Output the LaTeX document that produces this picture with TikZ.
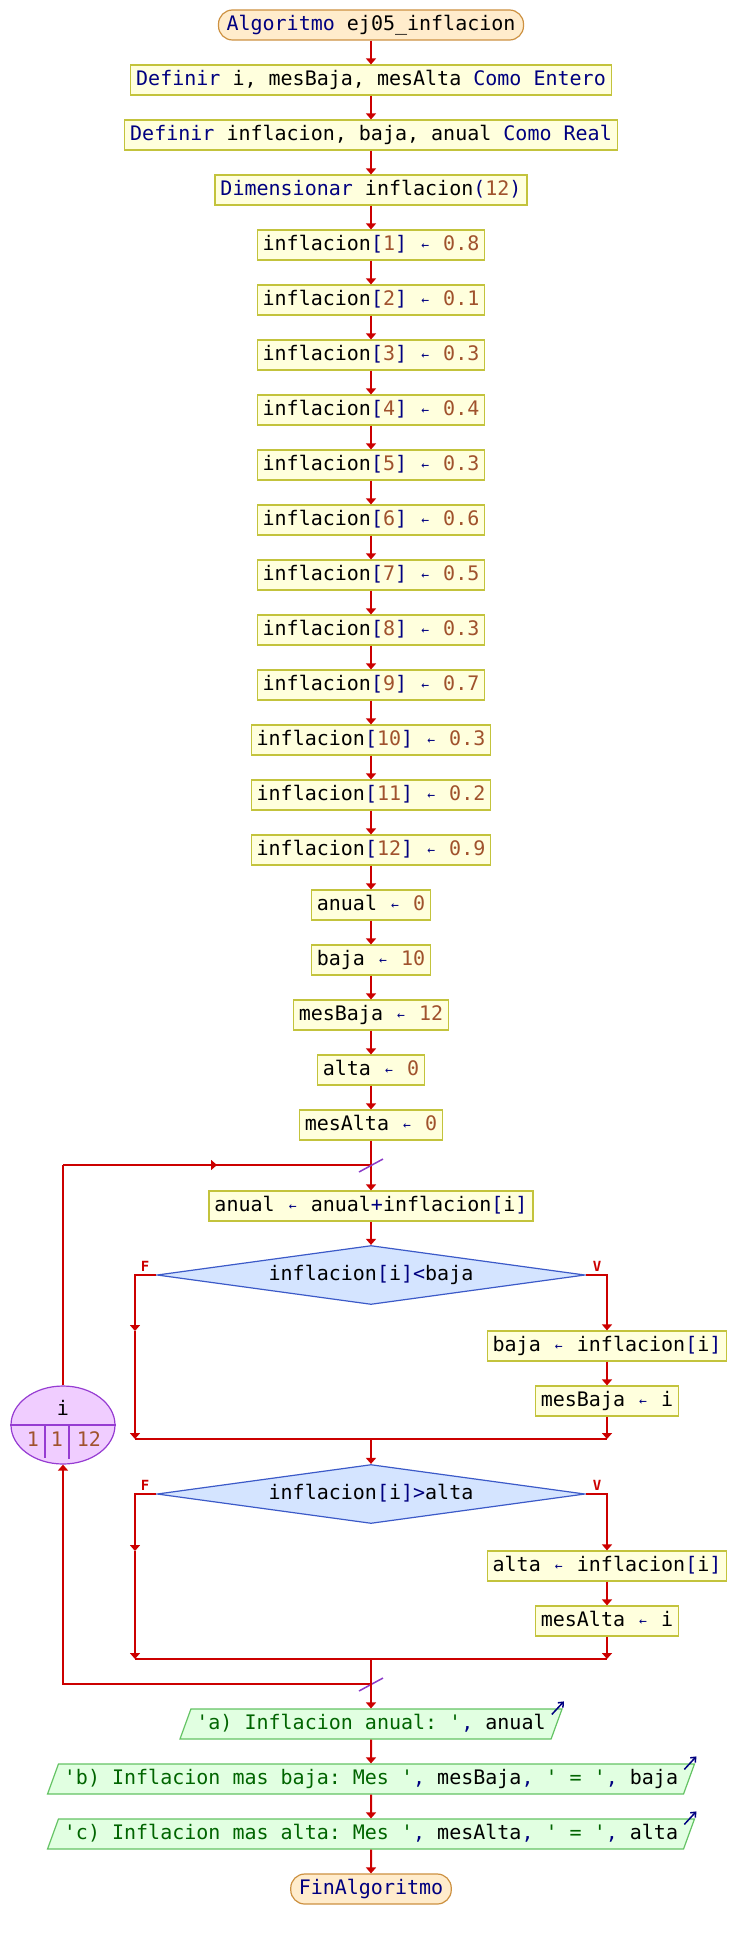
\documentclass[tikz,border=0pt]{standalone}
\usepackage{fontspec}
\setmonofont{DejaVu Sans Mono}
\usetikzlibrary{arrows.meta,shapes.geometric,decorations.markings}
\definecolor{flowred}{RGB}{204,0,0}
\definecolor{kwblue}{RGB}{0,0,128}
\definecolor{numbrown}{RGB}{160,82,45}
\definecolor{strgreen}{RGB}{0,100,0}
\definecolor{procfill}{RGB}{255,255,221}
\definecolor{procline}{RGB}{195,195,60}
\definecolor{termfill}{RGB}{255,236,204}
\definecolor{termline}{RGB}{205,145,65}
\definecolor{decfill}{RGB}{212,228,255}
\definecolor{decline}{RGB}{60,90,200}
\definecolor{outfill}{RGB}{225,255,225}
\definecolor{outline}{RGB}{100,195,100}
\definecolor{loopfill}{RGB}{240,205,255}
\definecolor{loopline}{RGB}{150,60,210}
\definecolor{slashpurple}{RGB}{140,60,200}
\newcommand{\kw}[1]{\textcolor{kwblue}{#1}}
\newcommand{\nm}[1]{\textcolor{numbrown}{#1}}
\newcommand{\strg}[1]{\textcolor{strgreen}{#1}}
\newcommand{\asg}{\makebox[12pt]{\raisebox{1.5pt}{\fontsize{13pt}{13pt}\selectfont\kw{←}}}}
\tikzset{
  every node/.style={font=\ttfamily\fontsize{20pt}{24pt}\selectfont, text height=15pt, text depth=4pt},
  terminal/.style={draw=termline, fill=termfill, line width=1.2pt, rounded corners=14pt, inner xsep=8pt, inner ysep=5.5pt},
  proc/.style={draw=procline, fill=procfill, line width=1.2pt, inner xsep=5.5pt, inner ysep=5.5pt},
  decision/.style={diamond, aspect=7.25, draw=decline, fill=decfill, line width=1.2pt, minimum width=428pt, minimum height=59pt, inner sep=0pt},
  output/.style={trapezium, trapezium left angle=70, trapezium right angle=110, draw=outline, fill=outfill, line width=1.2pt, inner xsep=5.5pt, inner ysep=5.5pt},
  loopvar/.style={ellipse, draw=loopline, fill=loopfill, line width=1.2pt, minimum width=104pt, minimum height=78pt, inner sep=0pt},
  flowline/.style={color=flowred, line width=2pt},
  flow/.style={flowline, -{Triangle[width=10pt,length=6pt]}},
  midarrow/.style={postaction={decorate}, decoration={markings, mark=at position 0.5 with {\arrow{Triangle[width=10pt,length=6pt]}}}},
  branch/.style={text=flowred, font=\ttfamily\bfseries\fontsize{14pt}{14pt}\selectfont, inner sep=0pt, text height=10pt, text depth=0pt},
  outicon/.style={draw=kwblue, line width=1.5pt, -{Straight Barb[length=4pt,width=7pt]}},
  slash/.style={draw=slashpurple, line width=1.5pt}
}
\begin{document}
\begin{tikzpicture}[x=1pt,y=1pt]
\useasboundingbox (0,0) rectangle (737,-1940);
\node[terminal] (start) at (371,-25) {\kw{Algoritmo} ej05\_inflacion};
\node[proc] (defint) at (371,-80) {\kw{Definir} i, mesBaja, mesAlta \kw{Como Entero}};
\node[proc] (defreal) at (371,-135) {\kw{Definir} inflacion, baja, anual \kw{Como Real}};
\node[proc] (dim) at (371,-190) {\kw{Dimensionar} inflacion\kw{(}\nm{12}\kw{)}};
\node[proc] (inf1) at (371,-245) {inflacion\kw{[}\nm{1}\kw{]} \asg{} \nm{0.8}};
\node[proc] (inf2) at (371,-300) {inflacion\kw{[}\nm{2}\kw{]} \asg{} \nm{0.1}};
\node[proc] (inf3) at (371,-355) {inflacion\kw{[}\nm{3}\kw{]} \asg{} \nm{0.3}};
\node[proc] (inf4) at (371,-410) {inflacion\kw{[}\nm{4}\kw{]} \asg{} \nm{0.4}};
\node[proc] (inf5) at (371,-465) {inflacion\kw{[}\nm{5}\kw{]} \asg{} \nm{0.3}};
\node[proc] (inf6) at (371,-520) {inflacion\kw{[}\nm{6}\kw{]} \asg{} \nm{0.6}};
\node[proc] (inf7) at (371,-575) {inflacion\kw{[}\nm{7}\kw{]} \asg{} \nm{0.5}};
\node[proc] (inf8) at (371,-630) {inflacion\kw{[}\nm{8}\kw{]} \asg{} \nm{0.3}};
\node[proc] (inf9) at (371,-685) {inflacion\kw{[}\nm{9}\kw{]} \asg{} \nm{0.7}};
\node[proc] (inf10) at (371,-740) {inflacion\kw{[}\nm{10}\kw{]} \asg{} \nm{0.3}};
\node[proc] (inf11) at (371,-795) {inflacion\kw{[}\nm{11}\kw{]} \asg{} \nm{0.2}};
\node[proc] (inf12) at (371,-850) {inflacion\kw{[}\nm{12}\kw{]} \asg{} \nm{0.9}};
\node[proc] (anual0) at (371,-905) {anual \asg{} \nm{0}};
\node[proc] (baja0) at (371,-960) {baja \asg{} \nm{10}};
\node[proc] (mesbaja0) at (371,-1015) {mesBaja \asg{} \nm{12}};
\node[proc] (alta0) at (371,-1070) {alta \asg{} \nm{0}};
\node[proc] (mesalta0) at (371,-1125) {mesAlta \asg{} \nm{0}};
\draw[flow] (start) -- (defint);
\draw[flow] (defint) -- (defreal);
\draw[flow] (defreal) -- (dim);
\draw[flow] (dim) -- (inf1);
\draw[flow] (inf1) -- (inf2);
\draw[flow] (inf2) -- (inf3);
\draw[flow] (inf3) -- (inf4);
\draw[flow] (inf4) -- (inf5);
\draw[flow] (inf5) -- (inf6);
\draw[flow] (inf6) -- (inf7);
\draw[flow] (inf7) -- (inf8);
\draw[flow] (inf8) -- (inf9);
\draw[flow] (inf9) -- (inf10);
\draw[flow] (inf10) -- (inf11);
\draw[flow] (inf11) -- (inf12);
\draw[flow] (inf12) -- (anual0);
\draw[flow] (anual0) -- (baja0);
\draw[flow] (baja0) -- (mesbaja0);
\draw[flow] (mesbaja0) -- (alta0);
\draw[flow] (alta0) -- (mesalta0);
% bucle Para
\coordinate (looptop) at (371,-1165);
\coordinate (loopcorner) at (63,-1165);
\node[proc] (sum) at (371,-1206) {anual \asg{} anual\kw{+}inflacion\kw{[}i\kw{]}};
\node[decision] (lowtest) at (371,-1275) {inflacion\kw{[}i\kw{]<}baja};
\node[proc] (newlow) at (607,-1346) {baja \asg{} inflacion\kw{[}i\kw{]}};
\node[proc] (lowmonth) at (607,-1401) {mesBaja \asg{} i};
\coordinate (lowskip) at (135,-1331);
\coordinate (lowjoinl) at (135,-1439);
\coordinate (lowjoin) at (371,-1439);
\coordinate (lowjoinr) at (607,-1439);
\node[decision] (hightest) at (371,-1494) {inflacion\kw{[}i\kw{]>}alta};
\node[proc] (newhigh) at (607,-1566) {alta \asg{} inflacion\kw{[}i\kw{]}};
\node[proc] (highmonth) at (607,-1621) {mesAlta \asg{} i};
\coordinate (highskip) at (135,-1551);
\coordinate (highjoinl) at (135,-1659);
\coordinate (highjoin) at (371,-1659);
\coordinate (highjoinr) at (607,-1659);
\coordinate (loopbot) at (371,-1684);
\node[loopvar] (forloop) at (63,-1425) {};
\node (loopname) at (63,-1410) {i};
\node[text=numbrown] (loopfrom) at (33,-1441) {1};
\node[text=numbrown] (loopstep) at (57,-1441) {1};
\node[text=numbrown] (loopto) at (89,-1441) {12};
\draw[loopline, line width=1.2pt] (forloop.west) -- (forloop.east);
\draw[loopline, line width=1.2pt] (45,-1425) -- (45,-1458);
\draw[loopline, line width=1.2pt] (69,-1425) -- (69,-1459);
\node[branch] (lowf) at (145,-1266) {F};
\node[branch] (lowv) at (597,-1266) {V};
\node[branch] (highf) at (145,-1485) {F};
\node[branch] (highv) at (597,-1485) {V};
\draw[flow] (mesalta0) -- (sum);
\draw[flow] (sum) -- (lowtest);
\draw[flow] (lowtest.east) -| (newlow);
\draw[flow] (newlow) -- (lowmonth);
\draw[flow] (lowmonth) -- (lowjoinr);
\draw[flow] (lowtest.west) -| (lowskip);
\draw[flow] (lowskip) -- (lowjoinl);
\draw[flowline] (lowjoinl) -- (lowjoinr);
\draw[flow] (lowjoin) -- (hightest);
\draw[flow] (hightest.east) -| (newhigh);
\draw[flow] (newhigh) -- (highmonth);
\draw[flow] (highmonth) -- (highjoinr);
\draw[flow] (hightest.west) -| (highskip);
\draw[flow] (highskip) -- (highjoinl);
\draw[flowline] (highjoinl) -- (highjoinr);
\draw[flow] (loopbot) -| (forloop);
\draw[flowline] (forloop) -- (loopcorner);
\draw[flowline,midarrow] (loopcorner) -- (looptop);
\draw[slash] ([shift={(-12,-7)}]looptop) -- ++(24,13);
\draw[slash] ([shift={(-12,-7)}]loopbot) -- ++(24,13);
% salidas
\node[output] (printannual) at (371,-1724) {\strg{'a) Inflacion anual: '}\kw{,} anual};
\node[output] (printlow) at (371,-1779) {\strg{'b) Inflacion mas baja: Mes '}\kw{,} mesBaja\kw{,} \strg{' = '}\kw{,} baja};
\node[output] (printhigh) at (371,-1834) {\strg{'c) Inflacion mas alta: Mes '}\kw{,} mesAlta\kw{,} \strg{' = '}\kw{,} alta};
\node[terminal] (finish) at (371,-1889) {\kw{FinAlgoritmo}};
\draw[flow] (highjoin) -- (printannual);
\draw[flow] (printannual) -- (printlow);
\draw[flow] (printlow) -- (printhigh);
\draw[flow] (printhigh) -- (finish);
\draw[outicon] ([shift={(-11,-6)}]printannual.top right corner) -- ++(12,13);
\draw[outicon] ([shift={(-11,-6)}]printlow.top right corner) -- ++(12,13);
\draw[outicon] ([shift={(-11,-6)}]printhigh.top right corner) -- ++(12,13);
\end{tikzpicture}
\end{document}
